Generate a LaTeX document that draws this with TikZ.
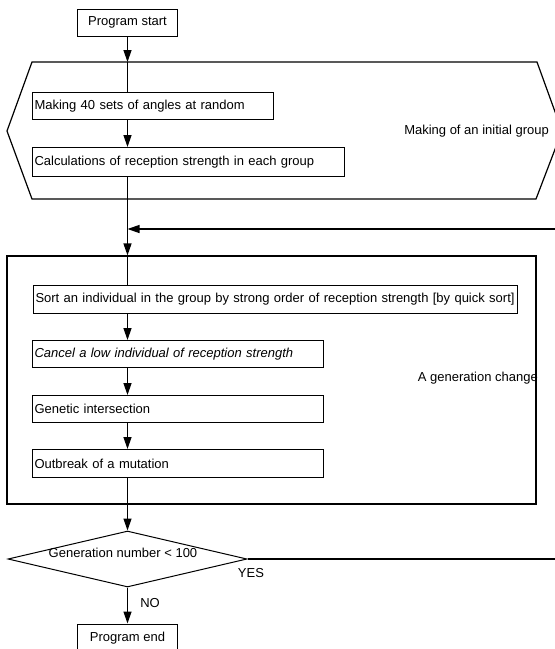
\documentclass[tikz,border=0pt]{standalone}
\usepackage{fontspec}
\setmainfont{Liberation Sans}
\usetikzlibrary{arrows.meta,shapes.geometric}
\newcommand{\fs}{\fontsize{13}{15}\selectfont}
\tikzset{
  every node/.style={font=\fs},
  stepbox/.style={draw, line width=1pt, inner xsep=2pt, inner ysep=0pt, align=left, anchor=north west},
  cbox/.style={draw, line width=1pt, inner sep=0pt, align=center},
  flow/.style={line width=1.3pt},
  arr/.style={line width=1.3pt, -{Triangle[length=12pt,width=8pt]}},
  frame/.style={draw, line width=1.2pt},
  lab/.style={inner sep=0pt}
}
\begin{document}
\begin{tikzpicture}[x=1pt,y=-1pt]
\useasboundingbox (0,0) rectangle (555,649);
\clip (0,0) rectangle (555,649);
\fill[white] (0,0) rectangle (555,649);

% start
\node[cbox, minimum width=100pt, minimum height=27pt] (start) at (127.5,22.5) {Program start};

% hexagon (initial group)
\draw[frame] (32,62) coordinate (hexA) -- (537,62) -- (562,131) coordinate (hexR) -- (536,199) -- (32,199) -- (7,131) coordinate (hexL) -- cycle;
\coordinate (htop) at (127.5,62);
\coordinate (hbot) at (127.5,199);

\node[stepbox, text width=237pt, minimum height=27pt] (b1) at (32,92) {Making 40 sets of angles at random};
\node[stepbox, text width=308pt, minimum height=29pt] (b2) at (32,147) {Calculations of reception strength in each group};
\node[lab, anchor=east] (hexlab) at (549,131) {Making of an initial group};

% generation box
\node[frame, minimum width=529pt, minimum height=248pt, inner sep=0pt] (genbox) at (271.5,380) {};
\node[stepbox, text width=480pt, minimum height=28pt] (sort) at (33,285) {Sort an individual in the group by strong order of reception strength [by quick sort]};
\node[stepbox, text width=287pt, minimum height=27pt] (cancel) at (32,340) {\itshape Cancel a low individual of reception strength};
\node[stepbox, text width=287pt, minimum height=27pt] (genetic) at (32,395) {Genetic intersection};
\node[stepbox, text width=287pt, minimum height=28pt] (mut) at (32,449) {Outbreak of a mutation};
\node[lab, anchor=east] (genlab) at (538,378) {A generation change};

% decision
\node[draw, line width=1pt, shape=diamond, aspect=4.2, inner sep=0pt, minimum width=239pt, minimum height=56pt] (dec) at (127.5,559) {};
\node[lab] (dectext) at (123,553) {Generation number < 100};
\node[lab] (yes) at (251,573) {YES};
\node[lab] (no) at (150,603) {NO};

% end
\node[cbox, minimum width=100pt, minimum height=28pt] (endbox) at (127.5,638) {Program end};

% connectors
\draw[arr] (start.south) -- (htop);
\draw[flow] (htop) -- (htop |- b1.north);
\draw[arr] (b1.south -| htop) -- (b2.north -| htop);
\draw[flow] (b2.south -| htop) -- (hbot);
\draw[arr] (hbot) -- (genbox.north -| htop);
\draw[flow] (genbox.north -| htop) -- (sort.north -| htop);
\draw[arr] (sort.south -| htop) -- (cancel.north -| htop);
\draw[arr] (cancel.south -| htop) -- (genetic.north -| htop);
\draw[arr] (genetic.south -| htop) -- (mut.north -| htop);
\draw[arr] (mut.south -| htop) -- (dec.north);
\draw[arr] (dec.south) -- (endbox.north);

% feedback loop (its right side lies beyond the picture's edge)
\coordinate (loopR) at (575,229);
\coordinate (loopin) at (127.5,229);
\draw[arr] (dec.east) -- (dec.east -| loopR) -- (loopR) -- (loopin);
\end{tikzpicture}
\end{document}
